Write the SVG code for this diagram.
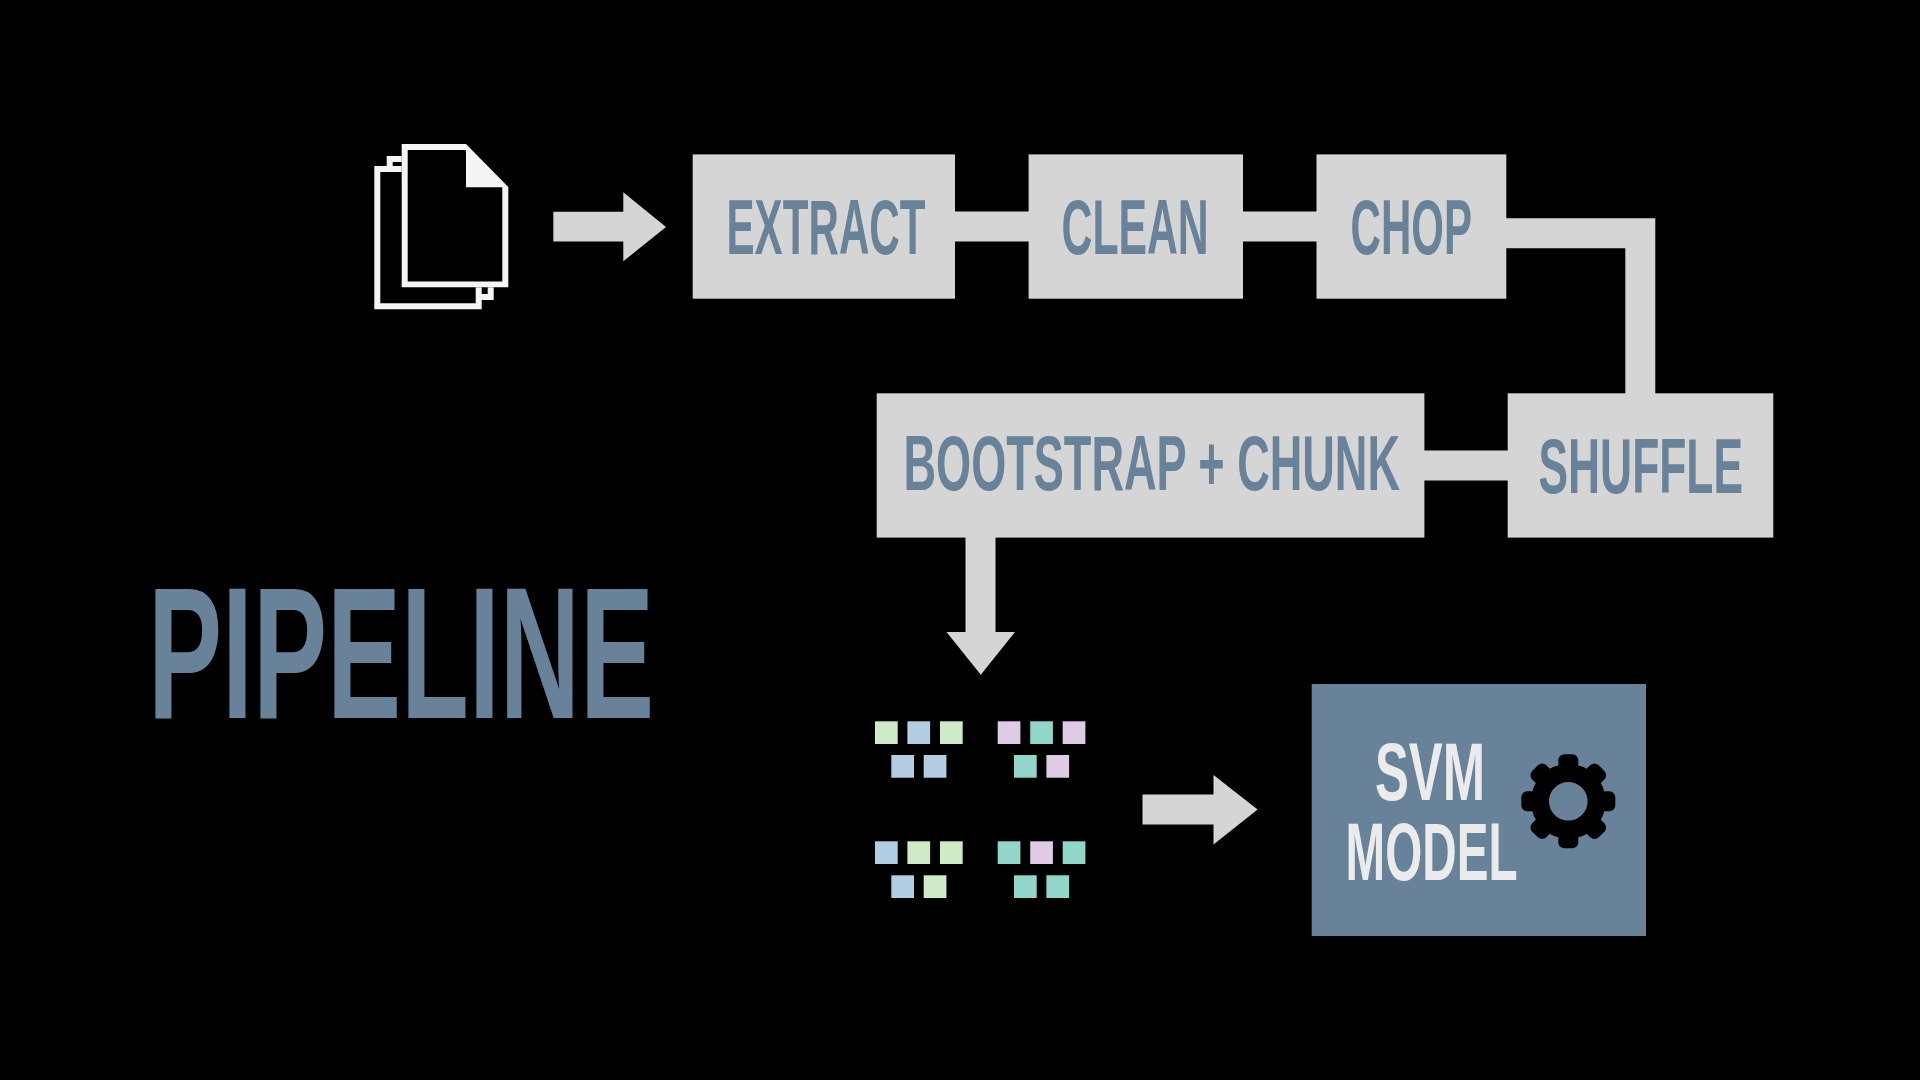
<svg xmlns="http://www.w3.org/2000/svg" width="1920" height="1080" viewBox="0 0 1920 1080">
<style>
.box{fill:#d5d5d5}
.conn{fill:none;stroke:#d5d5d5;stroke-width:30}
.arrow{fill:#d5d5d5}
.t{font-family:"Liberation Sans Narrow","Liberation Sans",Arial,sans-serif;font-weight:700;fill:#688299;font-size:77px}
.w{fill:#ebebeb;font-size:82px}
.page{fill:#000;stroke:#f5f5f5;stroke-width:6}
.g{fill:#cfeac6}.b{fill:#b3cde3}.p{fill:#decbe4}.c{fill:#92d6c9}
</style>
<rect width="1920" height="1080" fill="#000"/>
<g id="connectors">
<path class="conn" d="M955 226.400H1029"/>
<path class="conn" d="M1243 226.400H1317"/>
<path class="conn" d="M1506 233.300H1640.300V394"/>
<path class="conn" d="M1424 465.500H1508"/>
<polygon class="arrow" points="553.300,211.700 623.300,211.700 623.300,192.300 666,227 623.300,261.300 623.300,241.500 553.300,241.500"/>
<polygon class="arrow" points="965.500,537 995.500,537 995.500,632 1015,632 980.800,674.700 946.500,632 965.500,632"/>
<polygon class="arrow" points="1142.500,794.500 1213.500,794.500 1213.500,775 1257.600,809.500 1213.500,844.500 1213.500,824.500 1142.500,824.500"/>
</g>
<g id="documents">
<path class="page" d="M389.700 159H490.700V297H389.700Z"/>
<path class="page" d="M377.300 169H478.700V306.300H377.300Z"/>
<rect x="401.700" y="144" width="106.600" height="143.300" fill="#000"/>
<path fill="#f5f5f5" d="M401.700 144H466L508.300 187V287.300H401.700Z"/>
<path fill="#000" d="M407.700 150H466V187.300H502.300V281.500H407.700Z"/>
</g>
<g id="extract"><rect class="box" x="692.700" y="154.400" width="262.300" height="144.300"/><text class="t" x="726.500" y="254.300" textLength="199" lengthAdjust="spacingAndGlyphs">EXTRACT</text></g>
<g id="clean"><rect class="box" x="1028.600" y="154.400" width="214.400" height="144.300"/><text class="t" x="1061.600" y="254.300" textLength="147" lengthAdjust="spacingAndGlyphs">CLEAN</text></g>
<g id="chop"><rect class="box" x="1316.500" y="154.400" width="189.800" height="144.300"/><text class="t" x="1350.600" y="254.300" textLength="121.400" lengthAdjust="spacingAndGlyphs">CHOP</text></g>
<g id="shuffle"><rect class="box" x="1507.700" y="393.300" width="265.600" height="144.300"/><text class="t" x="1538.500" y="493" textLength="204.500" lengthAdjust="spacingAndGlyphs">SHUFFLE</text></g>
<g id="bootstrap"><rect class="box" x="876.700" y="393.300" width="547.700" height="144.300"/><text class="t" x="903.500" y="489.500" textLength="496.500" lengthAdjust="spacingAndGlyphs">BOOTSTRAP + CHUNK</text></g>
<g id="chunks">
<rect class="g" x="875" y="721.300" width="22.700" height="22.700"/><rect class="b" x="907.400" y="721.300" width="22.700" height="22.700"/><rect class="g" x="940" y="721.300" width="22.700" height="22.700"/>
<rect class="b" x="891.300" y="755" width="22.700" height="22.700"/><rect class="b" x="923.700" y="755" width="22.700" height="22.700"/>
<rect class="p" x="997.700" y="721.300" width="22.700" height="22.700"/><rect class="c" x="1030.200" y="721.300" width="22.700" height="22.700"/><rect class="p" x="1062.700" y="721.300" width="22.700" height="22.700"/>
<rect class="c" x="1014" y="755" width="22.700" height="22.700"/><rect class="p" x="1046.400" y="755" width="22.700" height="22.700"/>
<rect class="b" x="875" y="841.300" width="22.700" height="22.700"/><rect class="g" x="907.400" y="841.300" width="22.700" height="22.700"/><rect class="g" x="940" y="841.300" width="22.700" height="22.700"/>
<rect class="b" x="891.300" y="875.300" width="22.700" height="22.700"/><rect class="g" x="923.700" y="875.300" width="22.700" height="22.700"/>
<rect class="c" x="997.700" y="841.300" width="22.700" height="22.700"/><rect class="p" x="1030.200" y="841.300" width="22.700" height="22.700"/><rect class="c" x="1062.700" y="841.300" width="22.700" height="22.700"/>
<rect class="c" x="1014" y="875.300" width="22.700" height="22.700"/><rect class="c" x="1046.400" y="875.300" width="22.700" height="22.700"/>
</g>
<g id="svm-model">
<rect x="1311.700" y="684" width="334.300" height="252" fill="#688299"/>
<text class="t w" x="1375" y="800" textLength="110" lengthAdjust="spacingAndGlyphs">SVM</text>
<text class="t w" x="1345.500" y="880" textLength="172" lengthAdjust="spacingAndGlyphs">MODEL</text>
<g transform="translate(1568.300 801.300)">
<circle r="28.300" fill="none" stroke="#000" stroke-width="18"/>
<g fill="#000"><rect x="-10" y="-47" width="20" height="22" rx="6"/><rect x="-10" y="-47" width="20" height="22" rx="6" transform="rotate(45)"/><rect x="-10" y="-47" width="20" height="22" rx="6" transform="rotate(90)"/><rect x="-10" y="-47" width="20" height="22" rx="6" transform="rotate(135)"/><rect x="-10" y="-47" width="20" height="22" rx="6" transform="rotate(180)"/><rect x="-10" y="-47" width="20" height="22" rx="6" transform="rotate(225)"/><rect x="-10" y="-47" width="20" height="22" rx="6" transform="rotate(270)"/><rect x="-10" y="-47" width="20" height="22" rx="6" transform="rotate(315)"/></g>
</g>
</g>
<g id="title"><text x="148" y="717.700" textLength="506" lengthAdjust="spacingAndGlyphs" font-family="'Liberation Sans Narrow','Liberation Sans',Arial,sans-serif" font-weight="700" font-size="187" fill="#688299">PIPELINE</text></g>
</svg>
